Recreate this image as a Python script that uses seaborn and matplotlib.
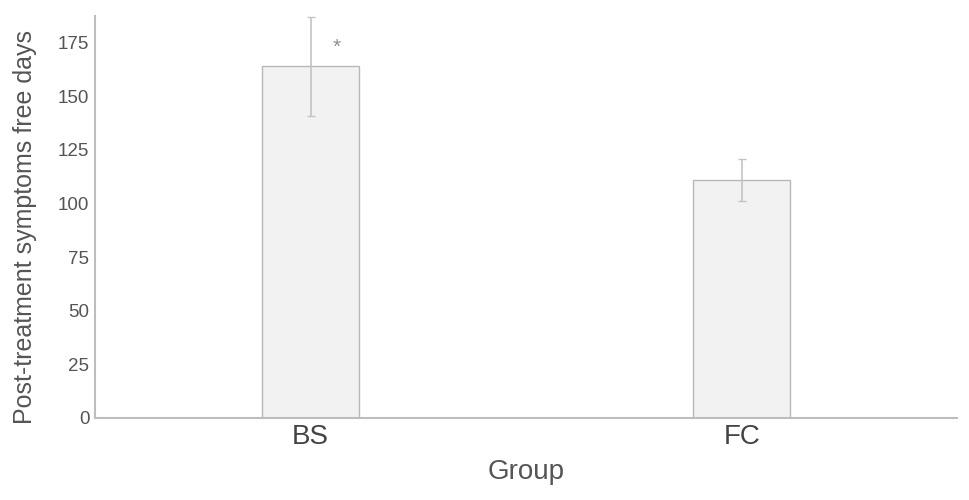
import matplotlib
matplotlib.use("Agg")
import matplotlib.pyplot as plt
import seaborn as sns
import pandas as pd

groups = ["BS", "FC"]
means = [164, 111]
errors = [23, 10]
sig_marks = ["*", ""]

sns.set_theme(style="white")
plt.rcParams['font.family'] = ['Liberation Sans', 'DejaVu Sans']

df = pd.DataFrame({"Group": groups, "Days": means})

fig = plt.figure(figsize=(9.69, 5.0), dpi=100)
ax = fig.add_axes([0.098, 0.164, 0.890, 0.804])

sns.barplot(data=df, x="Group", y="Days", ax=ax, width=0.225,
            color="#f2f2f2", edgecolor="#b8b8b8", linewidth=1.0,
            errorbar=None)
for p in ax.patches:
    p.set_facecolor("#f2f2f2")

ax.errorbar(range(len(groups)), means, yerr=errors, fmt="none",
            ecolor="#c4c4c4", elinewidth=1.2, capsize=3, capthick=1.0, zorder=5)

for i, (m, e, s) in enumerate(zip(means, errors, sig_marks)):
    if s:
        ax.text(i + 0.06, 173, s, ha="center", va="center",
                fontsize=15, color="#8f8f8f")

ax.set_xlim(-0.5, 1.5)
ax.set_ylim(0, 187.5)
ax.set_yticks([0, 25, 50, 75, 100, 125, 150, 175])
ax.set_xlabel("Group", fontsize=20, color="#555555", labelpad=7)
ax.set_ylabel("Post-treatment symptoms free days", fontsize=18, color="#555555", labelpad=15)
ax.yaxis.label.set_y(0.475)
ax.tick_params(axis="y", labelsize=13.5, colors="#555555", length=0, pad=4)
ax.tick_params(axis="x", labelsize=20, colors="#444444", length=0, pad=4)
for s in ["top", "right"]:
    ax.spines[s].set_visible(False)
for s in ["left", "bottom"]:
    ax.spines[s].set_color("#bdbdbd")
    ax.spines[s].set_linewidth(1.5)

fig.savefig("out.png", dpi=100, facecolor="white")
